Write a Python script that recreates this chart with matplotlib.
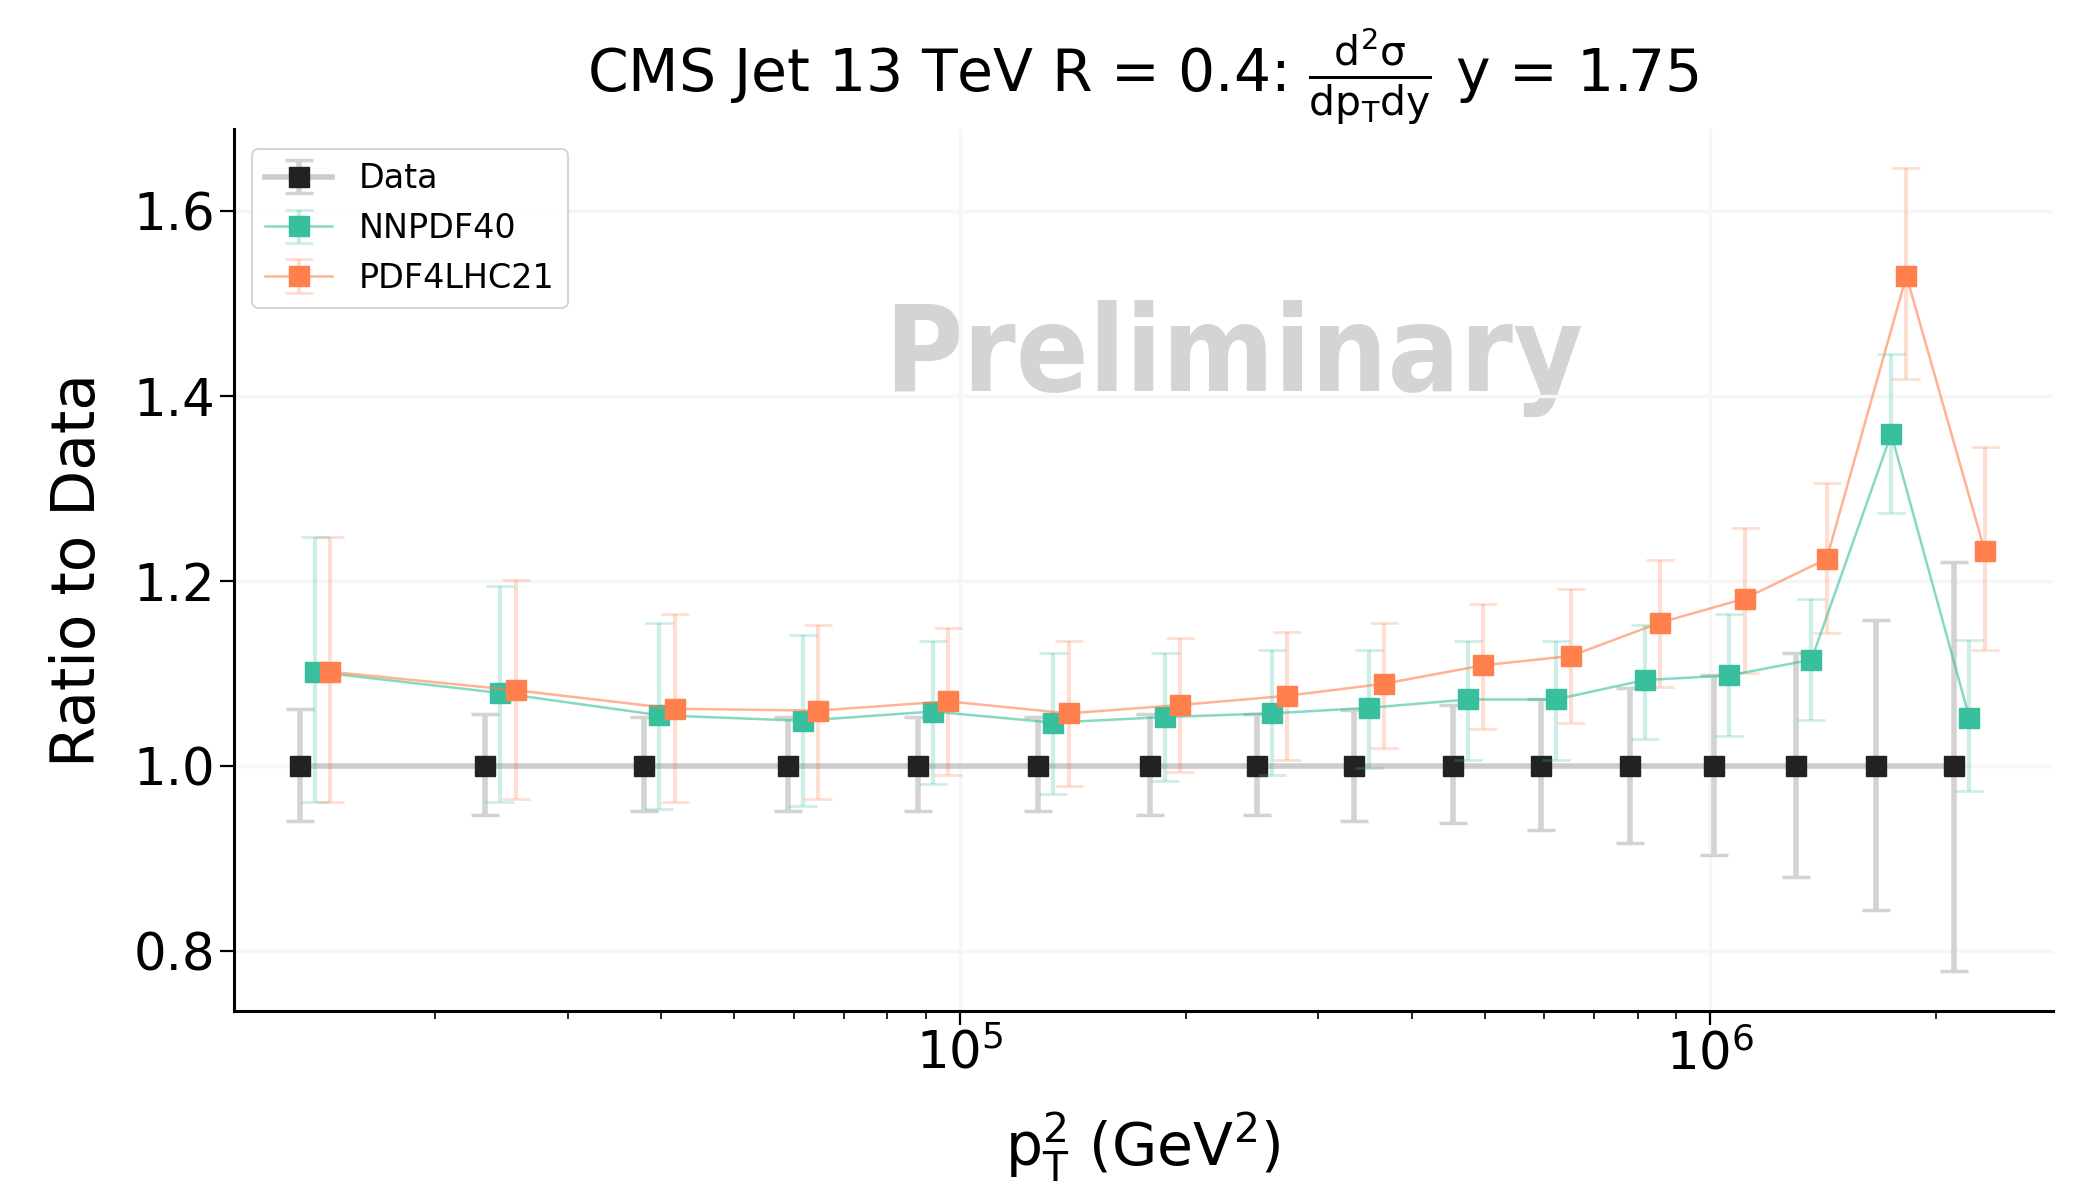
import numpy as np
import matplotlib
matplotlib.use('Agg')
import matplotlib.pyplot as plt
from matplotlib.colors import to_rgba

plt.rcParams['mathtext.default'] = 'regular'

# pT^2 bin positions (GeV^2)
pt2 = [13180, 23310, 37970, 58930, 87800, 127200, 178900, 248800,
       334600, 454200, 594000, 780300, 1012000, 1302000, 1663000, 2114000]

# data (ratio = 1 by construction), asymmetric uncertainties
data_val = [1.0] * 16
data_up = [0.062, 0.056, 0.053, 0.053, 0.053, 0.053, 0.056, 0.056,
           0.061, 0.066, 0.072, 0.084, 0.099, 0.122, 0.158, 0.221]
data_dn = [0.059, 0.053, 0.049, 0.049, 0.049, 0.049, 0.053, 0.053,
           0.059, 0.062, 0.069, 0.083, 0.096, 0.120, 0.156, 0.221]

# NNPDF40 central / upper / lower
nnpdf_c = [1.102, 1.079, 1.055, 1.049, 1.059, 1.047, 1.053, 1.057,
           1.063, 1.072, 1.072, 1.093, 1.098, 1.115, 1.359, 1.052]
nnpdf_hi = [1.248, 1.195, 1.155, 1.142, 1.135, 1.122, 1.122, 1.125,
            1.125, 1.135, 1.135, 1.152, 1.164, 1.181, 1.445, 1.136]
nnpdf_lo = [0.961, 0.961, 0.954, 0.957, 0.981, 0.970, 0.984, 0.990,
            0.998, 1.007, 1.007, 1.029, 1.033, 1.050, 1.274, 0.973]

# PDF4LHC21 central / upper / lower
pdf4_c = [1.102, 1.082, 1.062, 1.060, 1.070, 1.057, 1.066, 1.076,
          1.089, 1.109, 1.119, 1.155, 1.181, 1.224, 1.530, 1.233]
pdf4_hi = [1.248, 1.201, 1.164, 1.152, 1.149, 1.135, 1.139, 1.145,
           1.155, 1.175, 1.191, 1.223, 1.257, 1.306, 1.647, 1.345]
pdf4_lo = [0.961, 0.964, 0.961, 0.964, 0.990, 0.978, 0.994, 1.007,
           1.020, 1.040, 1.047, 1.086, 1.101, 1.144, 1.418, 1.125]

yticks = [0.8, 1.0, 1.2, 1.4, 1.6]

teal = '#37bf9e'
coral = '#ff7f4d'

x = np.array(pt2, dtype=float)

fig = plt.figure(figsize=(20.8, 11.84), dpi=100)
ax = fig.add_axes([0.1123, 0.1463, 0.987 - 0.1123, 0.8913 - 0.1463])

ax.grid(True, which='major', color='#f6f6f6', lw=2.5, zorder=0)

# data
ax.errorbar(x, data_val, yerr=[data_dn, data_up], fmt='s-', color='#cccccc',
            lw=4, mfc='#222222', mec='#222222', ms=14,
            ecolor='#d3d3d3', elinewidth=4, capsize=10, capthick=2.5,
            label='Data', zorder=3)

# theory curves, shifted slightly right for readability
for vals, hi, lo, col, shift, lab in [
        (nnpdf_c, nnpdf_hi, nnpdf_lo, teal, 1.047, 'NNPDF40'),
        (pdf4_c, pdf4_hi, pdf4_lo, coral, 1.097, 'PDF4LHC21')]:
    c = np.array(vals)
    yerr = [c - np.array(lo), np.array(hi) - c]
    ax.errorbar(x * shift, c, yerr=yerr, fmt='s-', color=to_rgba(col, 0.6),
                lw=1.8, mfc=col, mec=col, ms=14,
                ecolor=to_rgba(col, 0.25), elinewidth=3, capsize=10,
                capthick=2, label=lab, zorder=4)

ax.set_xscale('log')
ax.set_xlim(10765, 2.86e6)
ax.set_ylim(0.7355, 1.689)
ax.set_yticks(yticks)

for s in ['top', 'right']:
    ax.spines[s].set_visible(False)
for s in ['left', 'bottom']:
    ax.spines[s].set_linewidth(2.2)

ax.tick_params(axis='both', which='major', labelsize=37, length=10, width=1.6)
ax.tick_params(axis='x', which='minor', length=6, width=1.2)

ax.set_xlabel(r'$p_T^2$ (GeV$^2$)', fontsize=42, labelpad=22)
ax.set_ylabel('Ratio to Data', fontsize=43, labelpad=18)
ax.set_title(r'CMS Jet 13 TeV R = 0.4: $\frac{d^2\sigma}{dp_Tdy}$ y = 1.75',
             fontsize=42, pad=26)

wm = ax.text(0.5497, 0.7027, 'Preliminary', transform=ax.transAxes,
             fontsize=100, fontweight='bold', fontstretch='condensed',
             color='#d4d4d4',
             family=['Noto Sans ExtraCondensed', 'Noto Sans Condensed',
                     'DejaVu Sans Condensed', 'Liberation Sans Narrow',
                     'DejaVu Sans'],
             ha='center', va='baseline', zorder=1)

leg = ax.legend(loc='upper left', fontsize=24, frameon=True,
                bbox_to_anchor=(0.0102, 0.977), borderaxespad=0,
                borderpad=0.4, handletextpad=0.8, labelspacing=0.5)
leg.get_frame().set_edgecolor('#cccccc')
leg.get_frame().set_linewidth(1.5)

# fit the watermark to its width in the reference
fig.canvas.draw()
bb = wm.get_window_extent()
wm.set_fontsize(100 * 700 / bb.width)

fig.savefig('out.png', dpi=100)
